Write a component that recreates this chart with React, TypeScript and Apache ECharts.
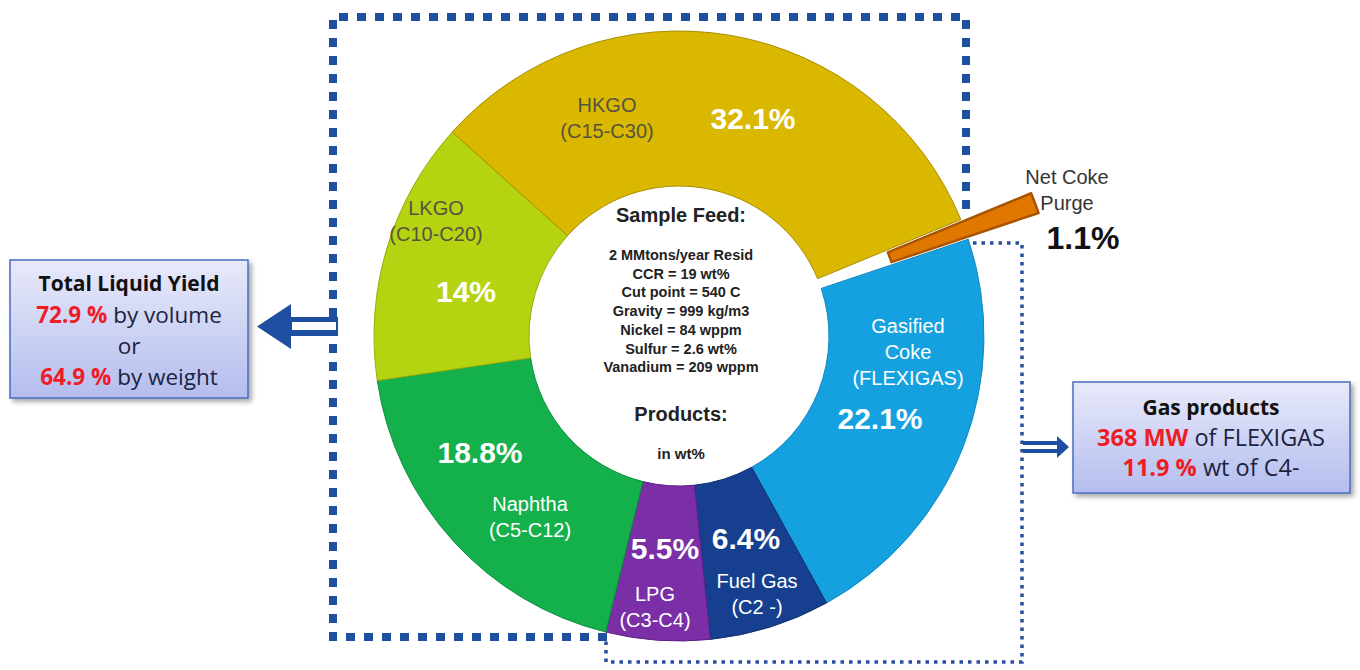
import { useEffect, useRef } from 'react';
import * as echarts from 'echarts';

// ---- data ----
const categories = ['Gasified Coke', 'Fuel Gas', 'LPG', 'Naphtha', 'LKGO', 'HKGO', 'Net Coke Purge'];
const values = [22.1, 6.4, 5.5, 18.8, 14, 32.1, 1.1];
const subLabels = [
  ['Gasified', 'Coke', '(FLEXIGAS)'],
  ['Fuel Gas', '(C2 -)'],
  ['LPG', '(C3-C4)'],
  ['Naphtha', '(C5-C12)'],
  ['LKGO', '(C10-C20)'],
  ['HKGO', '(C15-C30)'],
  ['Net Coke', 'Purge'],
];
const feedTitle = 'Sample Feed:';
const feedLines = [
  '2 MMtons/year Resid',
  'CCR = 19 wt%',
  'Cut point = 540 C',
  'Gravity = 999 kg/m3',
  'Nickel = 84 wppm',
  'Sulfur = 2.6 wt%',
  'Vanadium = 209 wppm',
];
const productsTitle = 'Products:';
const productsUnit = 'in wt%';
const liquidTitle = 'Total Liquid Yield';
const liquidValues = ['72.9 %', '64.9 %'];
const liquidUnits = ['by volume', 'by weight'];
const gasTitle = 'Gas products';
const gasValues = ['368 MW', '11.9 %'];
const gasUnits = ['of FLEXIGAS', 'wt of C4-'];

// ---- styles / layout ----
const sliceColors = ['#15a1e0', '#173f8f', '#7b2fa6', '#14b04c', '#b6d312', '#dbb800', '#e07800'];
const sliceBorders = ['#1088c0', '#0f2f70', '#5f2086', '#0e8e3c', '#95ad08', '#a88d00', '#a85400'];
const nameColors = ['#ffffff', '#ffffff', '#ffffff', '#ffffff', '#55533f', '#55533f', '#333333'];
const pctColors = ['#ffffff', '#ffffff', '#ffffff', '#ffffff', '#ffffff', '#ffffff', '#111111'];
const namePos = [[908, 352], [757, 594], [655, 607], [530, 517], [436, 221], [607, 118], [1067, 190]];
const pctPos = [[880, 418], [746, 538], [665, 548], [480, 452], [466, 291], [753, 118], [1083, 238]];

const FONT = '"Liberation Sans", Arial, sans-serif';
const BOXFONT = '"Open Sans", Lato, sans-serif';

export default function App() {
  const ref = useRef<HTMLDivElement>(null);

  useEffect(() => {
    document.body.style.margin = '0';
    if (!ref.current) return;
    const chart = echarts.init(ref.current, null, { renderer: 'svg' });

    const last = categories.length - 1;
    const data = categories.map((name, i) => {
      const style = {
        color: sliceColors[i],
        borderColor: sliceBorders[i],
        borderWidth: i === last ? 2.5 : 1,
      };
      const item: any = { name, value: values[i], itemStyle: style };
      if (i === last) {
        item.selected = true;
        item.select = { itemStyle: style };
      }
      return item;
    });

    const graphics: any[] = [];

    // slice labels
    categories.forEach((_, i) => {
      graphics.push({
        type: 'text',
        x: namePos[i][0],
        y: namePos[i][1],
        z: 20,
        style: {
          text: subLabels[i].join('\n'),
          fill: nameColors[i],
          fontSize: 20,
          fontFamily: FONT,
          lineHeight: 26,
          align: 'center',
          verticalAlign: 'middle',
        },
      });
      graphics.push({
        type: 'text',
        x: pctPos[i][0],
        y: pctPos[i][1],
        z: 20,
        style: {
          text: `${values[i]}%`,
          fill: pctColors[i],
          fontSize: i === last ? 32 : 30,
          fontWeight: 'bold',
          fontFamily: FONT,
          align: 'center',
          verticalAlign: 'middle',
        },
      });
    });

    // center texts
    const centerText = (text: string, y: number, size: number) => ({
      type: 'text', x: 681, y, z: 20,
      style: {
        text, fill: '#222', fontSize: size, fontWeight: 'bold', fontFamily: FONT,
        align: 'center', verticalAlign: 'middle',
      },
    });
    graphics.push(centerText(feedTitle, 215, 20));
    feedLines.forEach((t, i) => graphics.push(centerText(t, 255 + i * 18.7, 14.5)));
    graphics.push(centerText(productsTitle, 414, 20));
    graphics.push(centerText(productsUnit, 453, 15));

    // dotted outlines
    graphics.push({
      type: 'polyline', z: 5,
      shape: { points: [[607, 637], [333, 637], [333, 17], [966, 17], [966, 218]] },
      style: { stroke: '#1f4fa0', lineWidth: 8, lineDash: [9, 9], fill: null },
    });
    graphics.push({
      type: 'polyline', z: 5,
      shape: { points: [[973, 243], [1022, 243], [1022, 662], [606, 662], [606, 638]] },
      style: { stroke: '#2d4e9e', lineWidth: 3.5, lineDash: [3.5, 5], fill: null },
    });

    // left arrow
    graphics.push({ type: 'rect', z: 6, shape: { x: 290, y: 317, width: 48, height: 19 }, style: { fill: '#1f4fa0' } });
    graphics.push({ type: 'rect', z: 7, shape: { x: 292, y: 322, width: 44, height: 8 }, style: { fill: '#ffffff' } });
    graphics.push({
      type: 'polygon', z: 7,
      shape: { points: [[257, 326.5], [291, 304], [291, 349]] },
      style: { fill: '#1f4fa0' },
    });
    // right arrow
    graphics.push({ type: 'rect', z: 6, shape: { x: 1023, y: 441, width: 37, height: 12 }, style: { fill: '#1f4fa0' } });
    graphics.push({ type: 'rect', z: 7, shape: { x: 1023, y: 445, width: 35, height: 4 }, style: { fill: '#ffffff' } });
    graphics.push({
      type: 'polygon', z: 7,
      shape: { points: [[1069, 447], [1057, 436], [1057, 458]] },
      style: { fill: '#1f4fa0' },
    });

    const boxFill = {
      type: 'linear', x: 0, y: 0, x2: 0, y2: 1,
      colorStops: [
        { offset: 0, color: '#e8eafa' },
        { offset: 1, color: '#b4bdee' },
      ],
    };
    const makeRich = (size: number) => ({
      b: { fontSize: 21, fontWeight: 'bold', fontFamily: BOXFONT, fill: '#111111' },
      r: { fontSize: size, fontWeight: 'bold', fontFamily: BOXFONT, fill: '#ee1c25' },
      n: { fontSize: size, fontWeight: 'normal', fontFamily: BOXFONT, fill: '#1c2340' },
    });

    // left box
    graphics.push({
      type: 'rect', z: 8,
      shape: { x: 10, y: 260, width: 238, height: 138 },
      style: {
        fill: boxFill, stroke: '#4a6cc0', lineWidth: 1.5,
        shadowBlur: 5, shadowColor: 'rgba(0,0,0,0.35)', shadowOffsetX: 3, shadowOffsetY: 3,
      },
    });
    const leftRich = makeRich(22.5);
    const leftLines = [
      `{b|${liquidTitle}}`,
      `{r|${liquidValues[0]}}{n| ${liquidUnits[0]}}`,
      `{n|or}`,
      `{r|${liquidValues[1]}}{n| ${liquidUnits[1]}}`,
    ];
    leftLines.forEach((t, i) => {
      graphics.push({
        type: 'text', x: 129, y: 283 + i * 31, z: 9,
        style: { text: t, rich: leftRich, align: 'center', verticalAlign: 'middle' },
      });
    });

    // right box
    graphics.push({
      type: 'rect', z: 8,
      shape: { x: 1073, y: 382, width: 277, height: 111 },
      style: {
        fill: boxFill, stroke: '#4a6cc0', lineWidth: 1.5,
        shadowBlur: 5, shadowColor: 'rgba(0,0,0,0.35)', shadowOffsetX: 3, shadowOffsetY: 3,
      },
    });
    const rightRich = makeRich(23.5);
    const rightLines = [
      `{b|${gasTitle}}`,
      `{r|${gasValues[0]}}{n| ${gasUnits[0]}}`,
      `{r|${gasValues[1]}}{n| ${gasUnits[1]}}`,
    ];
    rightLines.forEach((t, i) => {
      graphics.push({
        type: 'text', x: 1211, y: 407 + i * 30, z: 9,
        style: { text: t, rich: rightRich, align: 'center', verticalAlign: 'middle' },
      });
    });

    chart.setOption({
      animation: false,
      backgroundColor: '#ffffff',
      series: [
        {
          type: 'pie',
          center: [679, 336],
          radius: [150, 305],
          startAngle: 18.5,
          clockwise: true,
          avoidLabelOverlap: false,
          selectedMode: 'single',
          selectedOffset: 75,
          silent: true,
          label: { show: false },
          labelLine: { show: false },
          emphasis: { disabled: true },
          data,
        },
      ],
      graphic: graphics,
    });

    return () => chart.dispose();
  }, []);

  return <div ref={ref} style={{ width: 1360, height: 670 }} />;
}
